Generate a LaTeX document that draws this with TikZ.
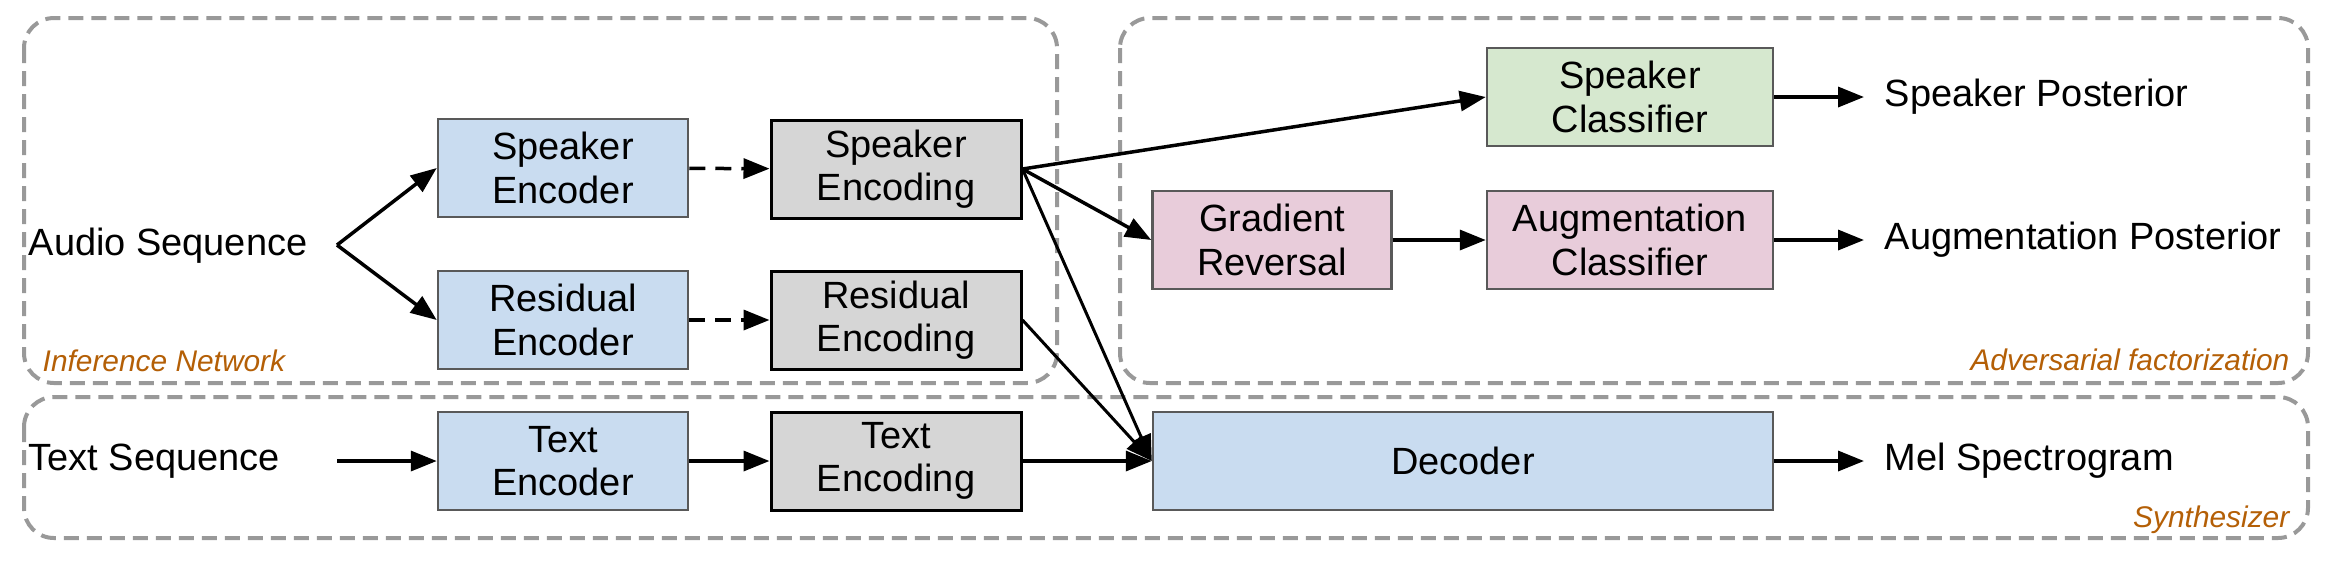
\documentclass[tikz,border=0pt]{standalone}
\usepackage{fontspec}
\setmainfont{Liberation Sans}
\usetikzlibrary{arrows.meta}

\definecolor{encblue}{HTML}{C9DCF0}
\definecolor{embgray}{HTML}{D6D6D6}
\definecolor{clsgreen}{HTML}{D6E8CF}
\definecolor{advpink}{HTML}{E8CCDA}
\definecolor{lblorange}{HTML}{B45F06}
\definecolor{framegray}{HTML}{999999}

\begin{document}
\begin{tikzpicture}[x=0.1mm, y=-0.1mm,
  box/.style={rectangle, draw=black!65, line width=0.25mm, minimum width=25mm,
    minimum height=9.8mm, inner sep=0pt, align=center,
    font=\fontsize{10.8}{12.4}\selectfont},
  outtext/.style={inner sep=2mm, font=\fontsize{10.8}{12.4}\selectfont},
  groupframe/.style={draw=framegray, line width=0.4mm,
    dash pattern=on 1.5mm off 0.8mm, rounded corners=3mm},
  grouplabel/.style={text=lblorange, inner sep=0pt,
    font=\fontsize{8.5}{10}\selectfont\itshape},
  arr/.style={line width=0.35mm, -{Triangle[length=2.6mm, width=2mm]}},
]

\useasboundingbox (0,0) rectangle (2338,564);

% Group frames
\draw[groupframe] (24,18) rectangle (1057,383);
\draw[groupframe] (1120,18) rectangle (2308,383);
\draw[groupframe] (24,397) rectangle (2308,538);

% Group labels
\node[grouplabel, anchor=west] (lblinf) at (42,361) {Inference Network};
\node[grouplabel, anchor=east] (lbladv) at (2290,360) {Adversarial factorization};
\node[grouplabel, anchor=east] (lblsyn) at (2290,520) {Synthesizer};

% Inputs
\node[outtext, anchor=west, inner sep=0pt] (audio) at (28,246) {Audio Sequence};
\node[outtext, anchor=west, inner sep=0pt] (textseq) at (28,461) {Text Sequence};
\coordinate (split) at (337,245);
\coordinate (txtstart) at (337,461);

% Encoders and encodings
\node[box, fill=encblue] (spkenc) at (563,168) {Speaker\\Encoder};
\node[box, fill=encblue] (resenc) at (563,320) {Residual\\Encoder};
\node[box, fill=encblue] (txtenc) at (563,461) {Text\\Encoder};
\node[box, fill=embgray, draw=black, line width=0.3mm] (spkemb) at (896,169) {Speaker\\Encoding};
\node[box, fill=embgray, draw=black, line width=0.3mm] (resemb) at (896,320) {Residual\\Encoding};
\node[box, fill=embgray, draw=black, line width=0.3mm] (txtemb) at (896,461) {Text\\Encoding};

% Adversarial part and decoder
\node[box, fill=clsgreen, minimum width=28.6mm] (spkcls) at (1630,97) {Speaker\\Classifier};
\node[box, fill=advpink, minimum width=23.9mm] (gradrev) at (1272,240) {Gradient\\Reversal};
\node[box, fill=advpink, minimum width=28.6mm] (augcls) at (1630,240) {Augmentation\\Classifier};
\node[box, fill=encblue, minimum width=62mm] (decoder) at (1463,461) {Decoder};

% Outputs
\node[outtext, anchor=west] (spkpost) at (1864,97) {Speaker Posterior};
\node[outtext, anchor=west] (augpost) at (1864,240) {Augmentation Posterior};
\node[outtext, anchor=west] (melspec) at (1864,461) {Mel Spectrogram};

% Connectors
\draw[arr] (split) -- (spkenc.west);
\draw[arr] (split) -- (resenc.west);
\draw[arr, dash pattern=on 1.6mm off 1mm] (spkenc) -- (spkemb);
\draw[arr, dash pattern=on 1.6mm off 1mm] (resenc) -- (resemb);
\draw[arr] (txtstart) -- (txtenc);
\draw[arr] (txtenc) -- (txtemb);
\draw[arr] (txtemb) -- (decoder);
\draw[arr] (spkemb.east) -- (spkcls.west);
\draw[arr] (spkemb.east) -- (gradrev.west);
\draw[arr, line width=0.3mm] (spkemb.east) -- (decoder.west);
\draw[arr, line width=0.3mm] (resemb.east) -- (decoder.west);
\draw[arr] (gradrev) -- (augcls);
\draw[arr] (spkcls) -- (spkpost);
\draw[arr] (augcls) -- (augpost);
\draw[arr] (decoder) -- (melspec);

\end{tikzpicture}
\end{document}
